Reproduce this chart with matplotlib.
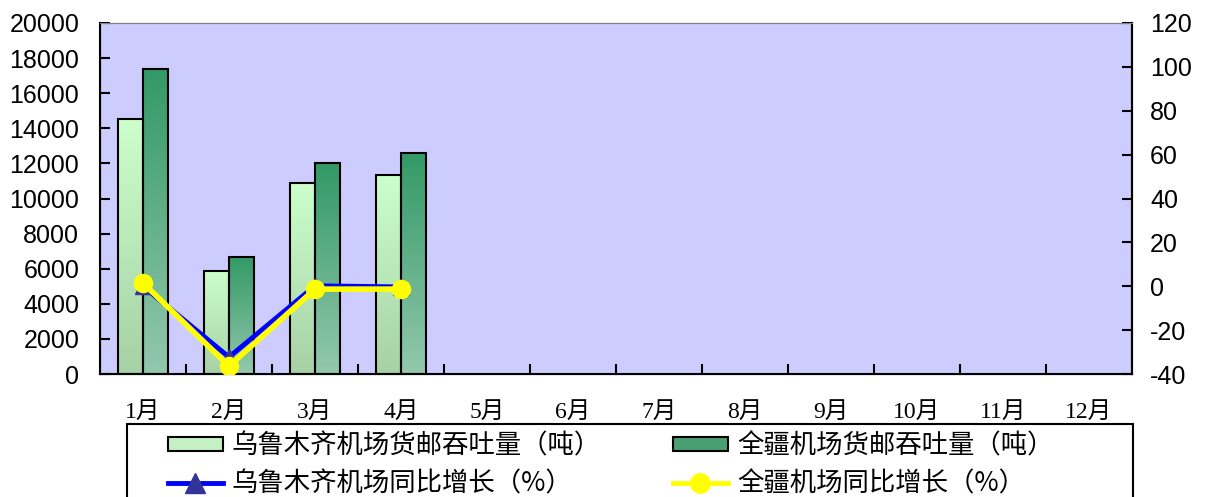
import numpy as np
import matplotlib
matplotlib.use("Agg")
import matplotlib.pyplot as plt
from matplotlib.patches import Rectangle, Patch
from matplotlib.lines import Line2D
from matplotlib.colors import LinearSegmentedColormap

plt.rcParams['font.family'] = ['Liberation Sans', 'Noto Sans CJK SC', 'DejaVu Sans']
plt.rcParams['axes.unicode_minus'] = False

months = ["1月", "2月", "3月", "4月", "5月", "6月", "7月", "8月", "9月", "10月", "11月", "12月"]
urumqi_cargo = [14530, 5870, 10880, 11340]
xinjiang_cargo = [17380, 6670, 12020, 12590]
urumqi_growth = [0.0, -32.3, 0.2, -0.3]
xinjiang_growth = [1.5, -36.4, -1.3, -1.3]

labels = ["乌鲁木齐机场货邮吞吐量（吨）", "全疆机场货邮吞吐量（吨）",
          "乌鲁木齐机场同比增长（%）", "全疆机场同比增长（%）"]

W, H = 1208, 497
fig = plt.figure(figsize=(W / 100, H / 100), dpi=100)
ax = fig.add_axes([100 / W, 1 - 374 / H, 1032 / W, 351 / H])
ax.set_facecolor('#ccccff')

n = len(months)
x = np.arange(n)
bw = 0.29

light_cmap = LinearSegmentedColormap.from_list('l', ['#a6d1a6', '#ccffcc'])
dark_cmap = LinearSegmentedColormap.from_list('d', ['#93c8ad', '#339966'])

grad = np.linspace(0, 1, 256).reshape(-1, 1)

def grad_bar(xc, h, cmap):
    x0 = xc - bw / 2
    rect = Rectangle((x0, 0), bw, h, facecolor='none', edgecolor='black', lw=1.5, zorder=3)
    ax.add_patch(rect)
    im = ax.imshow(grad, extent=(x0, x0 + bw, 0, h), origin='lower', aspect='auto',
                   cmap=cmap, zorder=2)
    im.set_clip_path(rect)

for i, v in enumerate(urumqi_cargo):
    grad_bar(x[i] - bw / 2, v, light_cmap)
for i, v in enumerate(xinjiang_cargo):
    grad_bar(x[i] + bw / 2, v, dark_cmap)

ax.set_xlim(-0.5, n - 0.5)
ax.set_ylim(0, 20000)
ax.set_yticks(np.arange(0, 20001, 2000))
ax.tick_params(axis='y', direction='in', length=7, width=1.5, labelsize=18, pad=15)
ax.set_xticks(x)
ax.set_xticklabels(months, fontsize=17, family=['Liberation Serif', 'Noto Sans CJK SC'])
ax.tick_params(axis='x', which='major', length=0, pad=20)
ax.set_xticks(np.arange(0.5, n - 0.5, 1), minor=True)
ax.tick_params(axis='x', which='minor', direction='in', length=7, width=1.5)
for s in ['left', 'bottom', 'right']:
    ax.spines[s].set_linewidth(1.5)
ax.spines['top'].set_color('#808080')

ax2 = ax.twinx()
ax2.set_ylim(-40, 120)
ax2.set_yticks(np.arange(-40, 121, 20))
ax2.tick_params(axis='y', direction='in', length=7, width=1.5, labelsize=18, pad=13)
ax2.spines['right'].set_linewidth(1.5)
ax2.spines['top'].set_color('#808080')
ax2.plot(x[:len(urumqi_growth)], urumqi_growth, color='#0000ff', lw=3.5,
         marker='^', markersize=11, markerfacecolor='#333399', markeredgecolor='#333399', zorder=4)
ax2.plot(x[:len(xinjiang_growth)], xinjiang_growth, color='#ffff00', lw=4,
         marker='o', markersize=13, markerfacecolor='#ffff00', markeredgecolor='#ffff00', zorder=5)

# legend frame
frame = Rectangle((127 / W, -0.1), (1133 - 127) / W, 0.1 + 1 - 424 / H,
                  transform=fig.transFigure, facecolor='white', edgecolor='black',
                  lw=1.5, zorder=0)
fig.patches.append(frame)

h_light = Patch(facecolor='#c4f0c4', edgecolor='black', lw=1.5)
h_dark = Patch(facecolor='#4a9f72', edgecolor='black', lw=1.5)
h_blue = Line2D([], [], color='#0000ff', lw=3.5, marker='^', markersize=14,
                markerfacecolor='#333399', markeredgecolor='#333399')
h_yel = Line2D([], [], color='#ffff00', lw=3.5, marker='o', markersize=14,
               markerfacecolor='#ffff00', markeredgecolor='#ffff00')

legkw = dict(loc='upper left', frameon=False,
             prop={'family': ['Noto Sans CJK SC'], 'size': 19},
             handlelength=2.08, handleheight=0.45, labelspacing=0.44, borderpad=0,
             borderaxespad=0, handletextpad=0.34)
leg1 = fig.legend([h_light, h_blue], [labels[0], labels[2]],
                  bbox_to_anchor=(168 / W, 1 - 432 / H), **legkw)
leg2 = fig.legend([h_dark, h_yel], [labels[1], labels[3]],
                  bbox_to_anchor=(673 / W, 1 - 432 / H), **legkw)

fig.savefig('out.png', dpi=100)
